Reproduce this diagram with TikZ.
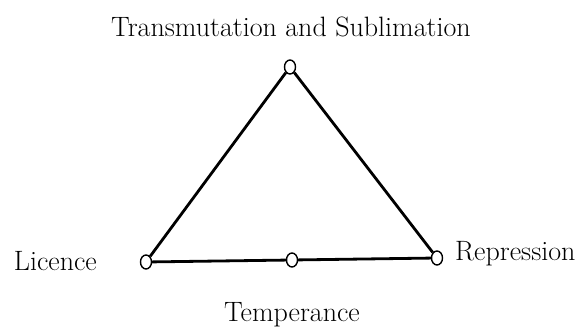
\documentclass[tikz,border=0pt]{standalone}
\usepackage{tikz}
\usetikzlibrary{shapes.geometric, positioning}
\tikzstyle{vertex} = [ellipse, draw=black, fill=white, line width=1.4pt, minimum width=11pt, minimum height=14pt, inner sep=0pt]
\tikzstyle{term} = [font=\fontsize{28}{32}\selectfont, inner sep=0pt]
\tikzstyle{edge} = [line width=2.8pt, black]

\begin{document}
\begin{tikzpicture}[x=1pt, y=1pt]
\useasboundingbox (0,0) rectangle (576,331);

\node[vertex] (sublimation) at (290,264) {};
\node[vertex] (licence) at (146,69) {};
\node[vertex] (temperance) at (292,71) {};
\node[vertex] (repression) at (437,73) {};

\draw[edge] (sublimation) -- (licence);
\draw[edge] (licence) -- (temperance);
\draw[edge] (temperance) -- (repression);
\draw[edge] (repression) -- (sublimation);

\node[term] (sublimationtext) at (291,304) {Transmutation and Sublimation};
\node[term, anchor=east] (licencetext) at (97,70) {Licence};
\node[term, anchor=west] (repressiontext) at (455,77) {Repression};
\node[term] (temperancetext) at (292,16) {Temperance};
\end{tikzpicture}
\end{document}
